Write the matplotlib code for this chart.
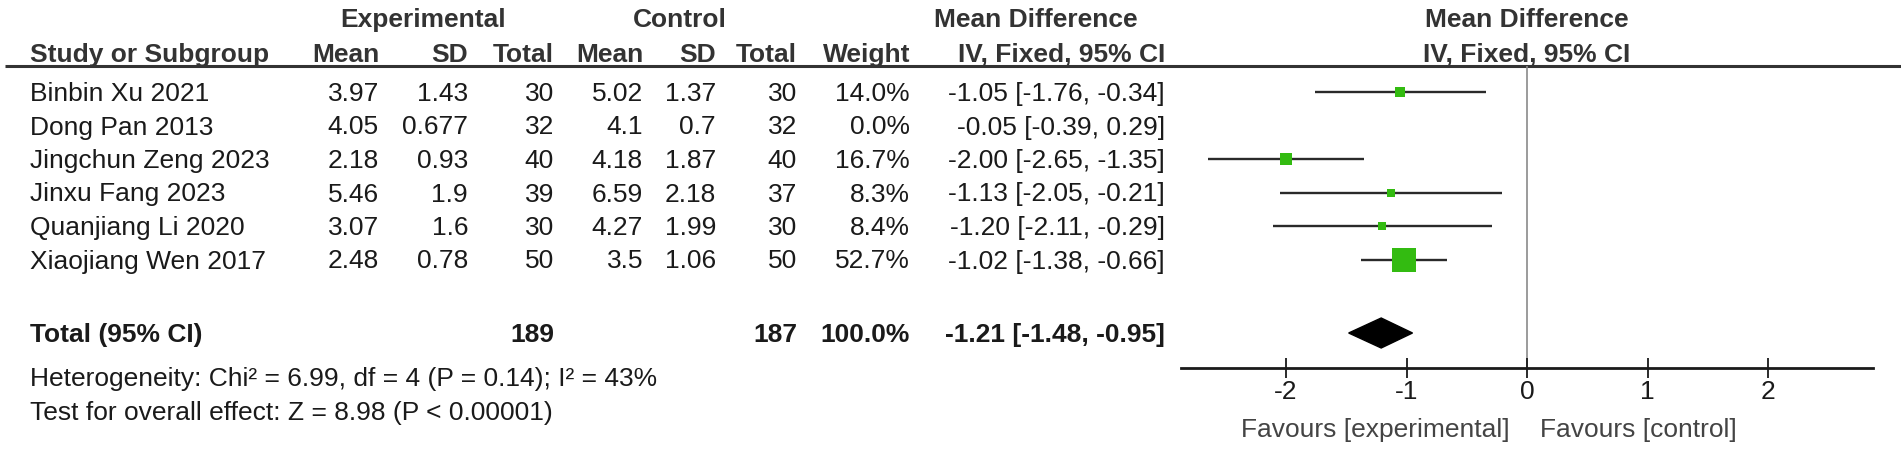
import numpy as np
import matplotlib
matplotlib.use("Agg")
import matplotlib.pyplot as plt

plt.rcParams['font.family'] = ['Liberation Sans', 'DejaVu Sans']
plt.rcParams['axes.unicode_minus'] = False

# data
studies = ["Binbin Xu 2021", "Dong Pan 2013", "Jingchun Zeng 2023",
           "Jinxu Fang 2023", "Quanjiang Li 2020", "Xiaojiang Wen 2017"]
exp_mean = [3.97, 4.05, 2.18, 5.46, 3.07, 2.48]
exp_sd = [1.43, 0.677, 0.93, 1.9, 1.6, 0.78]
exp_n = [30, 32, 40, 39, 30, 50]
ctl_mean = [5.02, 4.1, 4.18, 6.59, 4.27, 3.5]
ctl_sd = [1.37, 0.7, 1.87, 2.18, 1.99, 1.06]
ctl_n = [30, 32, 40, 37, 30, 50]
weight = [14.0, 0.0, 16.7, 8.3, 8.4, 52.7]
md = [-1.05, -0.05, -2.00, -1.13, -1.20, -1.02]
ci_lo = [-1.76, -0.39, -2.65, -2.05, -2.11, -1.38]
ci_hi = [-0.34, 0.29, -1.35, -0.21, -0.29, -0.66]
total_exp, total_ctl, total_weight = 189, 187, 100.0
total_md, total_lo, total_hi = -1.21, -1.48, -0.95
xticks = [-2, -1, 0, 1, 2]
heterogeneity = "Heterogeneity: Chi² = 6.99, df = 4 (P = 0.14); I² = 43%"
overall = "Test for overall effect: Z = 8.98 (P < 0.00001)"

W, H = 1901, 449
fig = plt.figure(figsize=(W / 100, H / 100), dpi=100)
fig.patch.set_facecolor('white')

# background axes in pixel coordinates for the table
bg = fig.add_axes([0, 0, 1, 1])
bg.set_xlim(0, W)
bg.set_ylim(H, 0)
bg.axis('off')

fs = 19
txt = '#1a1a1a'
hdr = '#333333'

row0, step = 92, 33.5
rows = [row0 + step * i for i in range(len(studies))]
y_total = 333
y_het = 377
y_test = 411
base = 9  # baseline offset from row centre

# column right edges
cx = dict(em=379, esd=468, en=554, cm=643, csd=716, cn=797, w=910, ci=1165)
left = 30
plot_l, plot_r, zero_px = 1181, 1873, 1527

# headers
bg.text(423, 27, "Experimental", ha='center', va='baseline', fontsize=fs, fontweight='bold', color=hdr)
bg.text(680, 27, "Control", ha='center', va='baseline', fontsize=fs, fontweight='bold', color=hdr)
bg.text(1036, 27, "Mean Difference", ha='center', va='baseline', fontsize=fs, fontweight='bold', color=hdr)
bg.text(zero_px, 27, "Mean Difference", ha='center', va='baseline', fontsize=fs, fontweight='bold', color=hdr)

hy = 62
bg.text(left, hy, "Study or Subgroup", ha='left', va='baseline', fontsize=fs, fontweight='bold', color=hdr)
for key, lab in [('em', 'Mean'), ('esd', 'SD'), ('en', 'Total'), ('cm', 'Mean'),
                 ('csd', 'SD'), ('cn', 'Total'), ('w', 'Weight'), ('ci', 'IV, Fixed, 95% CI')]:
    bg.text(cx[key], hy, lab, ha='right', va='baseline', fontsize=fs, fontweight='bold', color=hdr)
bg.text(zero_px, hy, "IV, Fixed, 95% CI", ha='center', va='baseline', fontsize=fs, fontweight='bold', color=hdr)
bg.plot([5, W], [66, 66], color='#333333', lw=2.2, solid_capstyle='butt')

# study rows
for i, y in enumerate(rows):
    yb = y + base
    bg.text(left, yb, studies[i], ha='left', va='baseline', fontsize=fs, color=txt)
    vals = [('em', str(exp_mean[i])), ('esd', str(exp_sd[i])), ('en', str(exp_n[i])),
            ('cm', str(ctl_mean[i])), ('csd', str(ctl_sd[i])), ('cn', str(ctl_n[i])),
            ('w', f"{weight[i]:.1f}%"),
            ('ci', f"{md[i]:.2f} [{ci_lo[i]:.2f}, {ci_hi[i]:.2f}]")]
    for key, s in vals:
        bg.text(cx[key], yb, s, ha='right', va='baseline', fontsize=fs, color=txt)

# total row
yb = y_total + base
bg.text(left, yb, "Total (95% CI)", ha='left', va='baseline', fontsize=fs, fontweight='bold', color=txt)
bg.text(cx['en'], yb, str(total_exp), ha='right', va='baseline', fontsize=fs, fontweight='bold', color=txt)
bg.text(cx['cn'], yb, str(total_ctl), ha='right', va='baseline', fontsize=fs, fontweight='bold', color=txt)
bg.text(cx['w'], yb, f"{total_weight:.1f}%", ha='right', va='baseline', fontsize=fs, fontweight='bold', color=txt)
bg.text(cx['ci'], yb, f"{total_md:.2f} [{total_lo:.2f}, {total_hi:.2f}]", ha='right', va='baseline',
        fontsize=fs, fontweight='bold', color=txt)
bg.text(left, y_het + base, heterogeneity, ha='left', va='baseline', fontsize=fs, color=txt)
bg.text(left, y_test + base, overall, ha='left', va='baseline', fontsize=fs, color=txt)

# forest plot axes (y in pixel rows, x in mean difference units)
ax_top, ax_bot = 66, 368
ppu = 120.5
ax = fig.add_axes([plot_l / W, 1 - ax_bot / H, (plot_r - plot_l) / W, (ax_bot - ax_top) / H])
ax.patch.set_alpha(0)
ax.set_xlim((plot_l - zero_px) / ppu, (plot_r - zero_px) / ppu)
ax.set_ylim(ax_bot, ax_top)
for s in ['top', 'left', 'right']:
    ax.spines[s].set_visible(False)
ax.spines['bottom'].set_linewidth(2.0)
ax.spines['bottom'].set_color('#1a1a1a')
ax.set_yticks([])
ax.set_xticks(xticks)
ax.set_xticklabels([str(t) for t in xticks])
ax.tick_params(axis='x', direction='inout', length=15, width=1.3, color='#1a1a1a',
               labelsize=fs, labelcolor=txt, pad=1)

ax.axvline(0, color='#8a8a8a', lw=1.2, zorder=1)

for i, y in enumerate(rows):
    if weight[i] <= 0:
        continue
    ax.hlines(y, ci_lo[i], ci_hi[i], color='#2a2a2a', lw=1.7, zorder=2)
    side = 24 * (weight[i] / max(weight)) ** 0.65
    ax.scatter([md[i]], [y], marker='s', s=(side * 0.72) ** 2, color='#33bb11',
               linewidths=0, zorder=3)

dh = 15
ax.fill([total_lo, total_md, total_hi, total_md],
        [y_total, y_total - dh, y_total, y_total + dh], color='black', zorder=3)

# favours labels
bg.text(zero_px - 17, 428 + base, "Favours [experimental]", ha='right', va='baseline', fontsize=fs, color='#444444')
bg.text(zero_px + 13, 428 + base, "Favours [control]", ha='left', va='baseline', fontsize=fs, color='#444444')

fig.savefig("out.png", dpi=100, facecolor='white')
